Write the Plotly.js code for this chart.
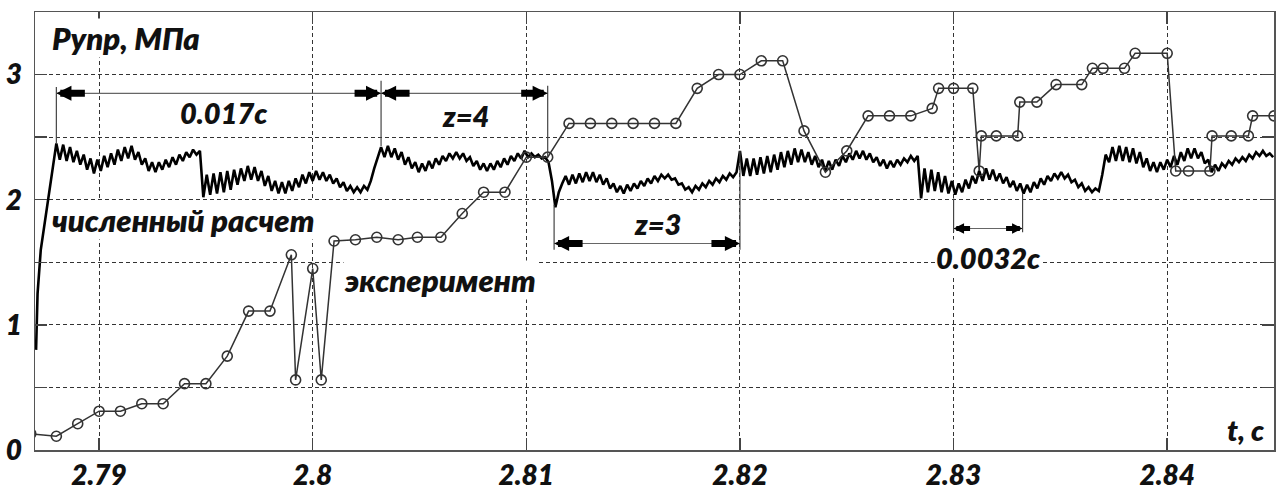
<!DOCTYPE html>
<html>
<head>
<meta charset="utf-8">
<script src="https://cdn.plot.ly/plotly-3.0.1.min.js"></script>
<style>html,body{margin:0;padding:0;background:#fff;}#chart{width:1279px;height:490px;}</style>
</head>
<body>
<div id="chart"></div>
<script>
// ---- numerical calculation (численный расчет) ----
var numStartT = [2.78705, 2.78712, 2.78727];
var numStartV = [0.80, 1.25, 1.60];
var numT0 = 2.7880;
var numDt = 0.00016;
var numV = [
2.45,2.32,2.44,2.31,2.42,2.30,2.39,2.28,2.36,2.24,
2.33,2.21,2.32,2.23,2.35,2.26,2.37,2.28,2.40,2.31,
2.42,2.33,2.43,2.32,2.38,2.28,2.33,2.23,2.30,2.22,
2.30,2.24,2.32,2.26,2.34,2.28,2.36,2.31,2.38,2.34,
2.40,2.36,2.39,2.02,2.20,2.04,2.21,2.05,2.22,2.06,
2.23,2.08,2.24,2.12,2.25,2.15,2.27,2.16,2.26,2.15,
2.23,2.11,2.19,2.07,2.15,2.05,2.14,2.05,2.15,2.07,
2.17,2.10,2.20,2.13,2.22,2.15,2.23,2.16,2.22,2.15,
2.20,2.13,2.17,2.10,2.14,2.07,2.11,2.06,2.10,2.06,
2.11,2.08,2.15,2.25,2.33,2.42,2.34,2.43,2.34,2.41,
2.32,2.38,2.28,2.34,2.25,2.30,2.22,2.29,2.23,2.31,
2.25,2.33,2.28,2.35,2.31,2.37,2.33,2.38,2.33,2.37,
2.31,2.34,2.27,2.31,2.24,2.29,2.23,2.29,2.24,2.31,
2.26,2.33,2.28,2.35,2.31,2.37,2.33,2.39,2.34,2.37,
2.34,2.36,2.33,2.34,2.30,2.15,1.94,2.06,2.13,2.19,
2.12,2.20,2.13,2.21,2.14,2.22,2.15,2.22,2.14,2.20,
2.12,2.17,2.09,2.13,2.06,2.11,2.05,2.12,2.07,2.13,
2.09,2.15,2.11,2.17,2.13,2.19,2.15,2.20,2.17,2.20,
2.16,2.17,2.12,2.13,2.08,2.10,2.06,2.11,2.08,2.13,
2.10,2.15,2.12,2.17,2.14,2.19,2.16,2.21,2.18,2.22,
2.39,2.19,2.33,2.19,2.33,2.20,2.34,2.21,2.35,2.22,
2.36,2.24,2.38,2.26,2.39,2.28,2.41,2.30,2.40,2.30,
2.38,2.28,2.35,2.26,2.32,2.23,2.31,2.24,2.32,2.27,
2.35,2.30,2.37,2.32,2.39,2.33,2.39,2.32,2.37,2.30,
2.34,2.27,2.32,2.25,2.31,2.26,2.32,2.28,2.33,2.30,
2.35,2.31,2.35,2.01,2.25,2.06,2.24,2.07,2.22,2.06,
2.19,2.05,2.15,2.04,2.13,2.06,2.16,2.09,2.19,2.13,
2.23,2.15,2.25,2.16,2.24,2.15,2.21,2.13,2.18,2.10,
2.15,2.07,2.13,2.05,2.12,2.06,2.14,2.09,2.17,2.12,
2.19,2.15,2.21,2.17,2.22,2.17,2.20,2.14,2.16,2.10,
2.13,2.07,2.10,2.06,2.09,2.07,2.20,2.36,2.30,2.42,
2.31,2.43,2.31,2.42,2.30,2.41,2.29,2.38,2.26,2.33,
2.23,2.30,2.22,2.30,2.24,2.32,2.26,2.35,2.28,2.38,
2.31,2.41,2.33,2.41,2.33,2.38,2.29,2.32,2.22,2.28,
2.23,2.29,2.26,2.31,2.28,2.33,2.30,2.34,2.31,2.36,
2.33,2.38,2.35,2.39,2.35,2.37,2.34
];

// ---- experiment (эксперимент) ----
var expT = [2.7868,2.7880,2.7890,2.7900,2.7910,2.7920,2.7930,2.7940,2.7950,2.7960,
2.7970,2.7980,2.7990,2.7992,2.8000,2.8004,2.8010,2.8020,2.8030,2.8040,
2.8049,2.8060,2.8070,2.8080,2.8090,2.8100,2.8110,2.8120,2.8130,2.8140,
2.8150,2.8160,2.8170,2.8180,2.8190,2.8200,2.8210,2.8220,2.8230,2.8240,
2.8250,2.8260,2.8270,2.8280,2.8290,2.8293,2.8300,2.8309,2.8312,2.8313,
2.8320,2.8330,2.8331,2.8339,2.8348,2.8360,2.8365,2.8370,2.8380,2.8385,
2.8400,2.8404,2.8410,2.8420,2.8421,2.8430,2.8438,2.8440,2.8450];
var expV = [0.13,0.11,0.21,0.31,0.31,0.37,0.37,0.53,0.53,0.75,
1.11,1.11,1.56,0.56,1.45,0.56,1.67,1.68,1.70,1.68,
1.70,1.70,1.89,2.06,2.06,2.34,2.34,2.61,2.61,2.61,
2.61,2.61,2.61,2.89,3.00,3.00,3.11,3.11,2.55,2.22,
2.39,2.67,2.67,2.67,2.73,2.89,2.89,2.89,2.23,2.51,
2.51,2.51,2.78,2.78,2.92,2.92,3.05,3.05,3.05,3.17,
3.17,2.23,2.23,2.23,2.51,2.51,2.51,2.67,2.67];

// ---- axes ticks ----
var xTickVals = [2.79, 2.80, 2.81, 2.82, 2.83, 2.84];
var xTickText = ['2.79', '2.8', '2.81', '2.82', '2.83', '2.84'];
var yTickVals = [0, 0.5, 1, 1.5, 2, 2.5, 3, 3.5];
var yTickText = ['0', '', '1', '', '2', '', '3', ''];

// build numerical series
var numX = numStartT.slice();
var numY = numStartV.slice();
for (var i = 0; i < numV.length; i++) {
  numX.push(+(numT0 + i * numDt).toFixed(6));
  numY.push(numV[i]);
}

var FONT = 'Lato, "Open Sans", "DejaVu Sans", sans-serif';
var txtFont = {family: FONT, size: 29, color: '#111', weight: 800, style: 'italic'};
var cyrFont = {family: FONT, size: 31, color: '#111', weight: 800, style: 'italic'};
var tickFont = {family: FONT, size: 28, color: '#111', weight: 800, style: 'italic'};

var traces = [
  {x: numX, y: numY, type: 'scatter', mode: 'lines',
   line: {color: '#000', width: 2.6}, hoverinfo: 'skip', showlegend: false},
  {x: expT, y: expV, type: 'scatter', mode: 'lines+markers',
   line: {color: '#333', width: 1.5},
   marker: {symbol: 'circle-open', size: 10, color: '#333', line: {width: 1.6, color: '#333'}},
   hoverinfo: 'skip', showlegend: false}
];

function vline(x, y0, y1) {
  return {type: 'line', xref: 'x', yref: 'y', x0: x, x1: x, y0: y0, y1: y1,
          line: {color: '#444', width: 1.2}};
}
function hline(y, x0, x1) {
  return {type: 'line', xref: 'x', yref: 'y', x0: x0, x1: x1, y0: y, y1: y,
          line: {color: '#666', width: 1.2}};
}
var shapes = [
  vline(2.7880, 2.90, 2.45), vline(2.8032, 2.95, 2.43), hline(2.85, 2.7880, 2.8110),
  vline(2.8110, 2.91, 2.34),
  vline(2.8113, 1.96, 1.60), vline(2.8200, 2.39, 1.60), hline(1.65, 2.8113, 2.8200),
  vline(2.8300, 2.01, 1.74), vline(2.83323, 2.05, 1.74), hline(1.77, 2.8300, 2.83323)
];

function arrow(x, y, ax, big) {
  return {x: x, y: y, xref: 'x', yref: 'y', text: '', showarrow: true,
          ax: ax, ay: 0, axref: 'pixel', ayref: 'pixel',
          arrowhead: 2, arrowwidth: big ? 7 : 5, arrowsize: big ? 0.43 : 0.42,
          arrowcolor: '#000', standoff: 0};
}
function label(text, x, y, xanchor, bg, font) {
  return {x: x, y: y, xref: 'x', yref: 'y', text: text, showarrow: false,
          xanchor: xanchor, yanchor: 'middle', font: font || txtFont,
          bgcolor: bg ? '#fff' : 'rgba(0,0,0,0)', borderpad: 0};
}
var annotations = [
  label('Рупр, МПа', 2.78774, 3.29, 'left', true, cyrFont),
  label('0.017c', 2.79584, 2.70, 'center', false),
  label('z=4', 2.80714, 2.67, 'center', false),
  label('численный расчет', 2.78774, 1.84, 'left', true, cyrFont),
  label('эксперимент', 2.80144, 1.36, 'left', true, cyrFont),
  label('z=3', 2.81616, 1.81, 'center', false),
  label('0.0032c', 2.83163, 1.54, 'center', true),
  label('t, c', 2.84370, 0.16, 'center', false),
  arrow(2.7880, 2.85, 30, true), arrow(2.8032, 2.85, -28, true),
  arrow(2.8032, 2.85, 30, true), arrow(2.8110, 2.85, -28, true),
  arrow(2.8113, 1.65, 30, true), arrow(2.8200, 1.65, -30, true),
  arrow(2.8300, 1.77, 18, false), arrow(2.83323, 1.77, -18, false)
];

var axisCommon = {
  showline: true, linecolor: '#555', linewidth: 1.5, mirror: 'ticks',
  ticks: 'inside', ticklen: 12, tickwidth: 1.5, tickcolor: '#444',
  showgrid: true, gridcolor: '#333', gridwidth: 1, griddash: '4px,3px',
  zeroline: false, tickfont: tickFont, fixedrange: true
};

var layout = {
  width: 1279, height: 490,
  margin: {l: 35, r: 5, t: 12, b: 40},
  paper_bgcolor: '#fff', plot_bgcolor: '#fff',
  showlegend: false,
  xaxis: Object.assign({}, axisCommon, {
    range: [2.787, 2.845], tickmode: 'array', tickvals: xTickVals, ticktext: xTickText,
    ticklabelstandoff: 0
  }),
  yaxis: Object.assign({}, axisCommon, {
    range: [0, 3.5], tickmode: 'array', tickvals: yTickVals, ticktext: yTickText,
    ticklabelstandoff: 6
  }),
  shapes: shapes,
  annotations: annotations
};

Plotly.newPlot('chart', traces, layout, {staticPlot: true, displayModeBar: false});
</script>
</body>
</html>
